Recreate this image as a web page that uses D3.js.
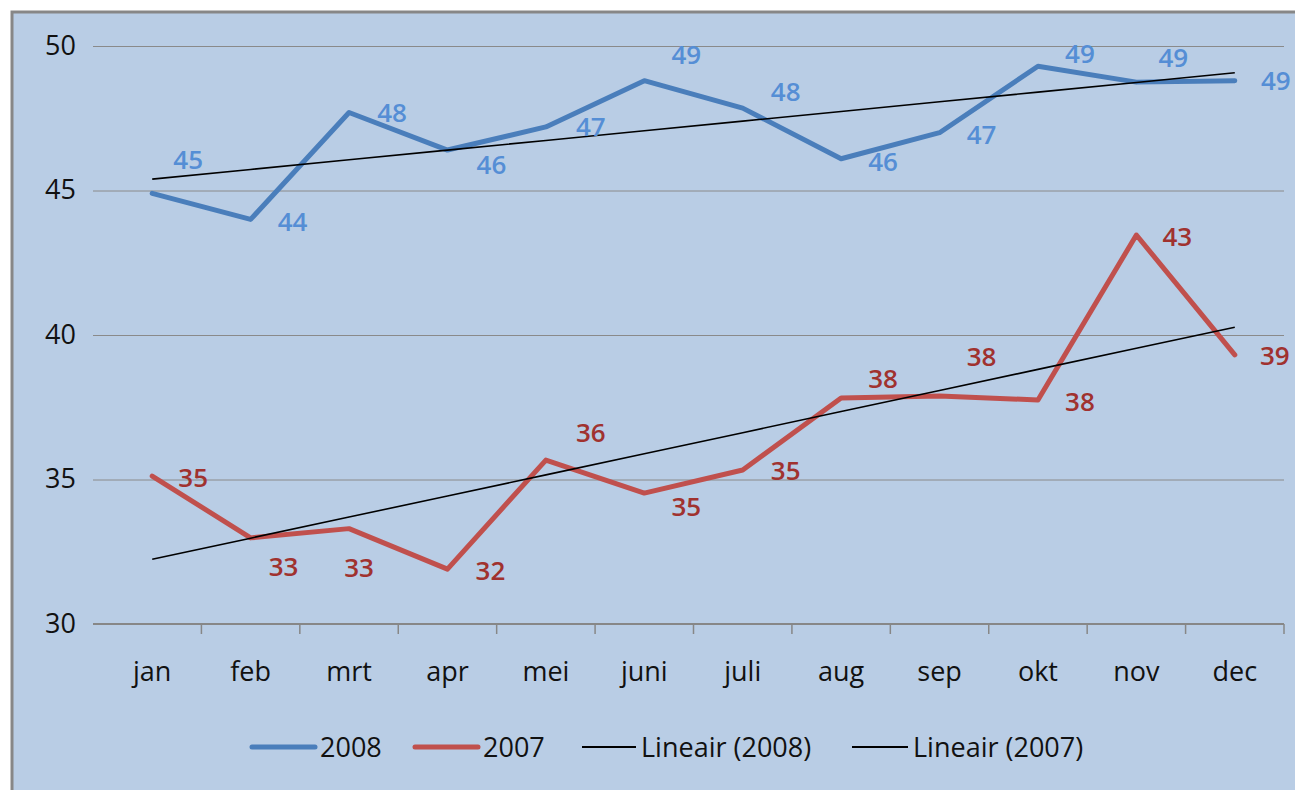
<!DOCTYPE html>
<html>
<head>
<meta charset="utf-8">
<script src="https://cdn.jsdelivr.net/npm/d3@7"></script>
<style>
  body { margin: 0; background: #fff; }
  svg text { font-family: "Open Sans", "Liberation Sans", sans-serif; }
</style>
</head>
<body>
<div id="grafico"></div>
<script>
// maanden
var maanden = ['jan', 'feb', 'mrt', 'apr', 'mei', 'juni', 'juli', 'aug', 'sep', 'okt', 'nov', 'dec'];
// waarden per jaar
var waarden2008 = [44.9, 44.0, 47.7, 46.4, 47.2, 48.8, 47.85, 46.1, 47.0, 49.3, 48.75, 48.8];
var waarden2007 = [35.12, 32.98, 33.3, 31.9, 35.67, 34.53, 35.33, 37.82, 37.89, 37.75, 43.46, 39.31];
// y-as
var yTicks = [30, 35, 40, 45, 50];
var legendaNamen = ['2008', '2007', 'Lineair (2008)', 'Lineair (2007)'];

// verschuiving van de labels (px), zoals handmatig versleept in het origineel
var labelDx2008 = [36, 42, 43, 44, 45, 42, 43, 42, 42, 42, 37, 41];
var labelDy2008 = [-34, 2, 0, 15, 0, -26, -16, 3, 2, -13, -24, 0];
var labelDx2007 = [41, 33, 10, 43, 45, 42, 43, 42, 42, 42, 41, 40];
var labelDy2007 = [2, 29, 39, 2, -27, 14, 1, -19, -39, 2, 2, 1];

function teken() {
    var breedte = 1295, hoogte = 790;
    var pLinks = 103, pRechts = 1284, pBoven = 46, pOnder = 624;

    var svg = d3.select('#grafico').append('svg')
        .attr('width', breedte)
        .attr('height', hoogte);

    // achtergrond
    svg.append('rect')
        .attr('x', 12).attr('y', 12)
        .attr('width', 1300).attr('height', 800)
        .attr('fill', '#b9cde5')
        .attr('stroke', '#878787')
        .attr('stroke-width', 3);

    var x = d3.scaleBand().domain(maanden).range([pLinks, pRechts]);
    var y = d3.scaleLinear().domain([30, 50]).range([pOnder, pBoven]);
    var cx = function (m) { return x(m) + x.bandwidth() / 2; };

    // gridlijnen + y labels
    var yAs = svg.append('g')
        .attr('transform', 'translate(93,0)')
        .call(d3.axisLeft(y).tickValues(yTicks).tickSize(-(pRechts - 93)).tickPadding(17));
    yAs.select('.domain').remove();
    yAs.selectAll('.tick line').attr('stroke', '#8a8a8a').attr('stroke-width', 1);
    yAs.selectAll('.tick text')
        .attr('font-size', 27).attr('fill', '#111').attr('dy', '0.3em');

    // x-as
    var xAs = svg.append('g')
        .attr('transform', 'translate(0,' + pOnder + ')')
        .call(d3.axisBottom(x).tickSize(0).tickPadding(57));
    xAs.select('.domain').remove();
    xAs.selectAll('.tick text').attr('font-size', 27).attr('fill', '#111').attr('dy', 0);

    svg.append('line')
        .attr('x1', 93).attr('x2', pRechts)
        .attr('y1', pOnder).attr('y2', pOnder)
        .attr('stroke', '#878787').attr('stroke-width', 2);

    // streepjes tussen de maanden
    var grenzen = maanden.slice(1).map(function (m) { return x(m); }).concat([pRechts]);
    svg.append('g').selectAll('line')
        .data(grenzen)
        .enter().append('line')
        .attr('x1', function (d) { return d; })
        .attr('x2', function (d) { return d; })
        .attr('y1', pOnder).attr('y2', pOnder + 10)
        .attr('stroke', '#878787').attr('stroke-width', 1.5);

    // lineaire trendlijn (kleinste kwadraten)
    function trend(waarden) {
        var n = waarden.length;
        var mx = (n + 1) / 2, my = d3.mean(waarden);
        var sxy = 0, sxx = 0;
        waarden.forEach(function (v, i) {
            sxy += (i + 1 - mx) * (v - my);
            sxx += (i + 1 - mx) * (i + 1 - mx);
        });
        var b = sxy / sxx, a = my - b * mx;
        return waarden.map(function (v, i) { return a + b * (i + 1); });
    }

    var line = d3.line()
        .x(function (d, i) { return cx(maanden[i]); })
        .y(function (d) { return y(d); });

    var reeksen = [
        { waarden: waarden2008, kleur: '#4a7ebb', label: '#558ed5', dx: labelDx2008, dy: labelDy2008 },
        { waarden: waarden2007, kleur: '#c0504d', label: '#a0322f', dx: labelDx2007, dy: labelDy2007 }
    ];

    reeksen.forEach(function (r) {
        svg.append('path')
            .attr('d', line(r.waarden))
            .attr('fill', 'none')
            .attr('stroke', r.kleur)
            .attr('stroke-width', 5)
            .attr('stroke-linejoin', 'round')
            .attr('stroke-linecap', 'round');
    });

    reeksen.forEach(function (r) {
        svg.append('path')
            .attr('d', line(trend(r.waarden)))
            .attr('fill', 'none')
            .attr('stroke', '#000')
            .attr('stroke-width', 1.6);
    });

    // datalabels
    reeksen.forEach(function (r) {
        svg.append('g').selectAll('text')
            .data(r.waarden)
            .enter().append('text')
            .attr('x', function (d, i) { return cx(maanden[i]) + r.dx[i]; })
            .attr('y', function (d, i) { return y(d) + r.dy[i]; })
            .attr('dy', '0.36em')
            .attr('text-anchor', 'middle')
            .attr('font-size', 26)
            .attr('font-weight', 600)
            .attr('fill', r.label)
            .text(function (d) { return Math.round(d); });
    });

    // legenda
    var legKleur = ['#4a7ebb', '#c0504d', '#000', '#000'];
    var legDikte = [5, 5, 2, 2];
    var legX = [252, 415, 582, 852];
    var legLen = [63, 63, 54, 56];
    var leg = svg.append('g');
    legendaNamen.forEach(function (naam, i) {
        leg.append('line')
            .attr('x1', legX[i]).attr('x2', legX[i] + legLen[i])
            .attr('y1', 747).attr('y2', 747)
            .attr('stroke', legKleur[i])
            .attr('stroke-width', legDikte[i])
            .attr('stroke-linecap', legDikte[i] > 3 ? 'round' : 'butt');
        leg.append('text')
            .attr('x', legX[i] + legLen[i] + 5)
            .attr('y', 757)
            .attr('font-size', 27)
            .attr('fill', '#111')
            .text(naam);
    });
}

teken();
</script>
</body>
</html>
